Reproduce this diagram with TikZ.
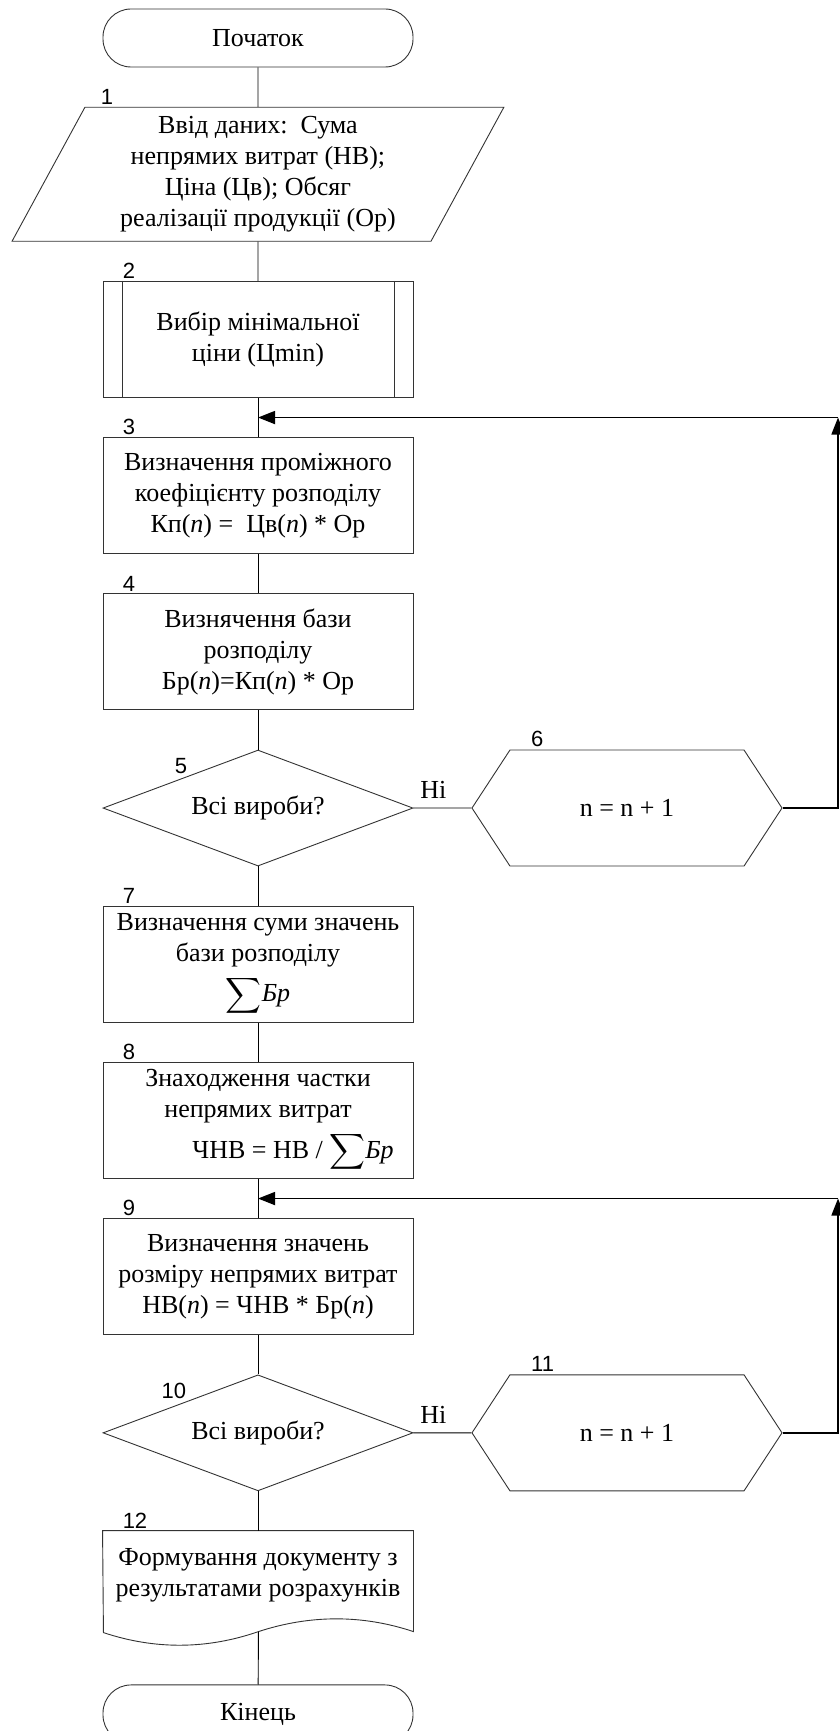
\documentclass[tikz,border=0pt]{standalone}
\usepackage{exscale}
\usepackage{fontspec}
\setmainfont{Liberation Serif}
\newfontfamily\numfont{Liberation Sans}
\usetikzlibrary{arrows.meta,positioning,calc,shapes.geometric,shapes.symbols}

\tikzset{
  every node/.style={font=\fontsize{26}{31}\selectfont, align=center},
  blk/.style={draw=black!80, line width=0.9pt, minimum width=310pt, minimum height=116pt, inner sep=0pt},
  box/.style={blk, rectangle},
  term/.style={blk, rounded corners=28pt, minimum height=58pt},
  io/.style={blk, trapezium, trapezium left angle=63.4, trapezium right angle=116.6,
    trapezium stretches=true, minimum width=493pt, minimum height=134pt},
  dec/.style={blk, diamond, aspect=2.67},
  prep/.style={blk, signal, signal to=east and west, signal pointer angle=113.6},
  doc/.style={box, draw=none, minimum height=88pt},
  num/.style={font=\numfont\fontsize{22}{22}\selectfont, inner sep=0pt, anchor=south west},
  back/.style={line width=1.6pt, -{Triangle[length=17pt,width=13pt]}},
  link/.style={line width=0.9pt}
}

\begin{document}
\begin{tikzpicture}[x=1pt, y=1pt, node distance=39.3pt]
\useasboundingbox (0,0) rectangle (840,-1731);

\node[term] (s0) at (258,-38) {Початок};
\node[io, below=of s0] (s1) {Ввід даних:\ \ Сума\\непрямих витрат (НВ);\\Ціна (Цв); Обсяг\\реалізації продукції (Ор)};
\node[box, below=of s1] (s2) {Вибір мінімальної\\ціни (Цmin)};
\node[box, below=of s2] (s3) {Визначення проміжного\\коефіцієнту розподілу\\Кп(\textit{n}) =\ \ Цв(\textit{n}) * Ор};
\node[box, below=of s3] (s4) {Визнячення бази\\розподілу\\Бр(\textit{n})=Кп(\textit{n}) * Ор};
\node[dec, below=of s4] (s5) {Всі вироби?};
\node[prep, right=58pt of s5] (s6) {n = n + 1};
\node[box, below=of s5] (s7) {Визначення суми значень\\бази розподілу\\[8pt]$\displaystyle\sum$\textit{Бр}};
\node[box, below=of s7] (s8) {Знаходження частки\\непрямих витрат\\[8pt]\hspace*{70pt}ЧНВ = НВ / $\displaystyle\sum$\textit{Бр}};
\node[box, below=of s8] (s9) {Визначення значень\\розміру непрямих витрат\\НВ(\textit{n}) = ЧНВ * Бр(\textit{n})};
\node[dec, below=of s9] (s10) {Всі вироби?};
\node[prep, right=58pt of s10] (s11) {n = n + 1};
\node[doc, below=of s10] (s12) {Формування документу з\\результатами розрахунків};
\node[term, below=65pt of s12] (s13) {Кінець};

% predefined process and document outlines
\draw[blk] ($(s2.north west)+(20,0)$) -- ($(s2.south west)+(20,0)$)
  ($(s2.north east)+(-19,0)$) -- ($(s2.south east)+(-19,0)$);
\draw[blk] (s12.north west) -- (s12.north east) -- ++(0,-101)
  .. controls +(-51,17) and +(52,17) .. ++(-155,0) coordinate (w12)
  .. controls +(-52,-18) and +(51,-17) .. ++(-155,-1) -- cycle;

% block numbers
\node[num] at ($(s1.top left corner)+(16,2)$) {1};
\foreach \n in {2,3,4,7,8,9,12}
  \node[num] at ($(s\n.north west)+(20,2)$) {\n};
\node[num, anchor=south east] at ($(s5.north west)+(7,5)$) {5};
\node[num, anchor=south east] at ($(s10.north west)+(6,5)$) {10};
\node[num] at ($(s6.north)+(-96,3)$) {6};
\node[num] at ($(s11.north)+(-96,3)$) {11};

% main flow
\path[link]
  (s0) edge (s1)
  (s1) edge (s2)
  (s2) edge (s3)
  (s3) edge (s4)
  (s4) edge (s5)
  (s5) edge (s7)
  (s7) edge (s8)
  (s8) edge (s9)
  (s9) edge (s10)
  (s10) edge (s12)
  (w12) edge (s13);
\draw[link] (s5) -- node[above, xshift=-9pt, yshift=6pt] {Ні} (s6);
\draw[link] (s10) -- node[above, xshift=-9pt, yshift=6pt] {Ні} (s11);

% loops back
\coordinate (m3) at ($(s2.south)!0.5!(s3.north)$);
\coordinate (m9) at ($(s8.south)!0.5!(s9.north)$);
\draw[back] (s6.east) -| ($(m3)+(580,0)$) coordinate (c6);
\draw[back] (c6) -- (m3);
\draw[back] (s11.east) -| ($(m9)+(580,0)$) coordinate (c11);
\draw[back] (c11) -- (m9);
\end{tikzpicture}
\end{document}
